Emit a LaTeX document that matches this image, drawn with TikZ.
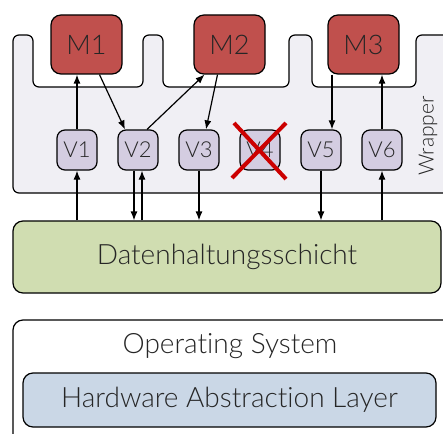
\documentclass[tikz,border=0pt]{standalone}
\usepackage{fontspec}
\setmainfont{Lato}[UprightFont=* Light,Ligatures=NoCommon]
\usetikzlibrary{positioning,arrows.meta}

\definecolor{modred}{HTML}{C0504D}
\definecolor{vlilac}{HTML}{D4CDE1}
\definecolor{wrapgray}{HTML}{F0EFF4}
\definecolor{datgreen}{HTML}{D0DDB1}
\definecolor{halblue}{HTML}{CAD7E6}
\definecolor{txtgray}{HTML}{262626}

\begin{document}
\begin{tikzpicture}[x=1pt,y=-1pt,node distance=61pt,on grid,>={Latex[length=9pt,width=7pt]},
	every node/.style={text=txtgray},
	module/.style={draw,line width=1.2pt,fill=modred,rounded corners=10pt,minimum width=71pt,minimum height=59pt,font=\fontsize{27}{30}\selectfont},
	vbox/.style={draw,line width=1.2pt,fill=vlilac,rounded corners=8pt,minimum width=40pt,minimum height=40pt,font=\fontsize{22}{24}\selectfont},
	layer/.style={draw,line width=1.2pt,rounded corners=10pt,font=\fontsize{28}{32}\selectfont}]
	\clip (0,0) rectangle (443,433);

	% wrapper with the slots for the modules
	\draw[line width=1.2pt,fill=wrapgray,rounded corners=6pt]
	(13,193) -- (13,35) -- (33,35) -- (33,87) -- (143,87) -- (143,35) -- (163,35) -- (163,87)
	-- (289,87) -- (289,35) -- (312,35) -- (312,87) -- (416,87) -- (416,35) -- (460,35) -- (460,193) -- cycle;
	\node[rotate=90,font=\fontsize{21}{24}\selectfont] (wrap) at (428,136) {Wrapper};

	\node[module] (M1) at (86.5,44.5) {M1};
	\node[module] (M2) at (229.5,44.5) {M2};
	\node[module] (M3) at (363.5,44.5) {M3};

	\node[vbox] (V1) at (77,150) {V1};
	\node[vbox] (V2) [right=of V1] {V2};
	\node[vbox] (V3) [right=of V2] {V3};
	\node[vbox] (V4) [right=of V3] {V4};
	\node[vbox] (V5) [right=of V4] {V5};
	\node[vbox] (V6) [right=of V5] {V6};

	\node[layer,fill=datgreen,minimum width=428pt,minimum height=72pt] (dat) at (227,257) {Datenhaltungsschicht};
	\node[layer,fill=white,minimum width=447pt,minimum height=130pt] (os) at (236.5,385) {};
	\node[font=\fontsize{28}{32}\selectfont] (ostext) at (230,346) {Operating System};
	\node[layer,fill=halblue,minimum width=413pt,minimum height=54pt] (hal) at (229.5,400) {Hardware Abstraction Layer};

	% V4 is out
	\draw[red!80!black,line width=4pt] ([shift={(-28pt,-28pt)}]V4.center) -- ([shift={(26pt,27pt)}]V4.center)
	([shift={(26pt,-29pt)}]V4.center) -- ([shift={(-26pt,27pt)}]V4.center);

	\path[->,line width=1.2pt]

	(V1.north) edge (V1.north |- M1.south)
	([xshift=13pt]M1.south) edge ([xshift=-13pt]V2.north)
	([xshift=9pt]V2.north) edge ([xshift=-25pt]M2.south)
	([xshift=-12pt]M2.south) edge ([xshift=7pt]V3.north)
	([xshift=11pt]V5.north |- M3.south) edge ([xshift=11pt]V5.north)
	(V6.north) edge (V6.north |- M3.south)

	(V1.south |- dat.north) edge (V1.south)
	([xshift=-4pt]V2.south) edge ([xshift=-4pt]V2.south |- dat.north)
	([xshift=4pt]V2.south |- dat.north) edge ([xshift=4pt]V2.south)
	(V3.south) edge (V3.south |- dat.north)
	(V5.south) edge (V5.south |- dat.north)
	(V6.south |- dat.north) edge (V6.south);

\end{tikzpicture}
\end{document}
